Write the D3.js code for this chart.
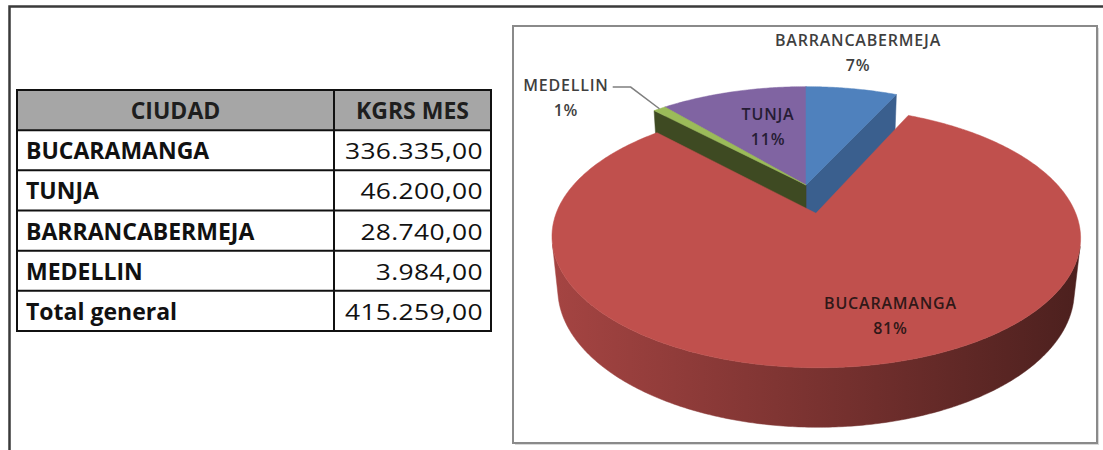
<!DOCTYPE html>
<html>
<head>
<meta charset="utf-8">
<script src="https://cdn.jsdelivr.net/npm/d3@7"></script>
<style>
  body { margin: 0; background: #fff; }
  svg { display: block; font-family: 'Open Sans', sans-serif; }
</style>
</head>
<body>
<div id="viz"></div>
<script>
const width = 1103;
const height = 450;

// Data (table order)
const cities = ['BUCARAMANGA', 'TUNJA', 'BARRANCABERMEJA', 'MEDELLIN'];
const kgrsMes = [336335, 46200, 28740, 3984];
const headers = ['CIUDAD', 'KGRS MES'];
const totalLabel = 'Total general';

// Slice styles (same order as cities)
const topColors = ['#c0504d', '#8064a2', '#4f81bd', '#9bbb59'];
const sideColors = ['#7d2f2d', '#5a4573', '#3a5f8e', '#3e4a22'];
const explode = [0.237, 0, 0, 0];

const svg = d3.select('#viz')
  .append('svg')
    .attr('width', width)
    .attr('height', height);

// Page frame (top + left rule)
svg.append('path')
  .attr('d', 'M9.5,450 V6.5 H1103')
  .attr('fill', 'none')
  .attr('stroke', '#3a3a3a')
  .attr('stroke-width', 2.5);

// ---------------- Table ----------------
const numFormat = d3.formatLocale({decimal: ',', thousands: '.', grouping: [3], currency: ['', '']}).format(',.2f');
const rows = cities.map((c, i) => ({name: c, value: kgrsMes[i]}));
rows.push({name: totalLabel, value: d3.sum(kgrsMes)});

const colX = [17, 334, 491];
const rowY = d3.scaleBand()
  .domain(d3.range(rows.length + 1))
  .range([90, 331]);

const table = svg.append('g').attr('class', 'table');

table.append('rect')
  .attr('x', colX[0]).attr('y', rowY(0))
  .attr('width', colX[2] - colX[0]).attr('height', rowY.bandwidth())
  .attr('fill', '#a6a6a6');

table.selectAll('text.head')
  .data(headers)
  .join('text')
    .attr('class', 'head')
    .attr('x', (d, i) => (colX[i] + colX[i + 1]) / 2)
    .attr('y', rowY(0) + 29)
    .attr('text-anchor', 'middle')
    .attr('font-size', 23)
    .attr('font-weight', 700)
    .attr('fill', '#1e1e1e')
    .text(d => d);

const bodyRows = table.selectAll('g.row')
  .data(rows)
  .join('g')
    .attr('class', 'row')
    .attr('transform', (d, i) => `translate(0, ${rowY(i + 1)})`);

bodyRows.append('text')
  .attr('x', colX[0] + 9)
  .attr('y', 29)
  .attr('font-size', 23)
  .attr('font-weight', 700)
  .attr('fill', '#111')
  .text(d => d.name);

// numbers: slightly widened glyphs, right aligned
bodyRows.append('text')
  .attr('transform', `translate(${colX[2] - 8}, 29) scale(1.2, 1)`)
  .attr('text-anchor', 'end')
  .attr('font-size', 22)
  .attr('letter-spacing', 0.3)
  .attr('fill', '#111')
  .text(d => numFormat(d.value));

// grid lines
table.selectAll('line.h')
  .data(d3.range(rows.length + 2))
  .join('line')
    .attr('x1', colX[0]).attr('x2', colX[2])
    .attr('y1', i => i <= rows.length ? rowY(i) : rowY.range()[1])
    .attr('y2', i => i <= rows.length ? rowY(i) : rowY.range()[1])
    .attr('stroke', '#111').attr('stroke-width', 2);
table.selectAll('line.v')
  .data(colX)
  .join('line')
    .attr('x1', d => d).attr('x2', d => d)
    .attr('y1', rowY.range()[0] - 1).attr('y2', rowY.range()[1] + 1)
    .attr('stroke', '#111').attr('stroke-width', 2);

// ---------------- Chart box ----------------
svg.append('rect')
  .attr('x', 515).attr('y', 28)
  .attr('width', 584).attr('height', 417)
  .attr('fill', '#d9d9d9');
svg.append('rect')
  .attr('x', 513).attr('y', 26)
  .attr('width', 584).attr('height', 417)
  .attr('fill', '#fff')
  .attr('stroke', '#8a8a8a')
  .attr('stroke-width', 2);

// ---------------- 3D pie ----------------
const cam = {cx: 806, cy: 185, k: 249, tilt: 27.7 * Math.PI / 180, dist: 5.0};
const depth = 0.235;
const cosT = Math.cos(cam.tilt), sinT = Math.sin(cam.tilt);
const camPos = [0, cam.dist * sinT, cam.dist * cosT];

const project = (X, Y, Z) => {
  const up = Y * cosT - Z * sinT;
  const d = cam.dist - Y * sinT - Z * cosT;
  const f = cam.dist / d;
  return [cam.cx + cam.k * X * f, cam.cy - cam.k * up * f];
};
const world = (a, r, off) => [off[0] + r * Math.sin(a), off[1] - r * Math.cos(a)];
const facing = (P, n) => (camPos[0] - P[0]) * n[0] + (camPos[1] - P[1]) * n[1] + (camPos[2] - P[2]) * n[2];

const pieData = cities.map((c, i) => ({name: c, value: kgrsMes[i], idx: i}));
const arcs = d3.pie()
  .value(d => d.value)
  .sort((a, b) => d3.ascending(a.name, b.name))(pieData);

const total = d3.sum(kgrsMes);
const pct = d3.format('.0%');
const line = d3.line();

arcs.forEach(a => {
  const mid = (a.startAngle + a.endAngle) / 2;
  const e = explode[a.data.idx];
  a.off = [e * Math.sin(mid), -e * Math.cos(mid)];
  a.mid = mid;
});

const sides = [];
const tops = [];
arcs.forEach(a => {
  const i = a.data.idx;
  const n = Math.max(2, Math.ceil((a.endAngle - a.startAngle) / 0.01));
  const angles = d3.range(n + 1).map(j => a.startAngle + (a.endAngle - a.startAngle) * j / n);

  // top face
  const c = a.off;
  const topPts = [project(c[0], 0, c[1])].concat(angles.map(t => {
    const w = world(t, 1, c);
    return project(w[0], 0, w[1]);
  }));
  tops.push({pts: topPts, fill: topColors[i], z: -(c[1]), idx: i});

  // outer wall: only the front-facing part
  const vis = angles.filter(t => {
    const w = world(t, 1, c);
    return facing([w[0], 0, w[1]], [Math.sin(t), 0, -Math.cos(t)]) > 0;
  });
  if (vis.length > 1) {
    const upper = vis.map(t => { const w = world(t, 1, c); return project(w[0], 0, w[1]); });
    const lower = vis.slice().reverse().map(t => { const w = world(t, 1, c); return project(w[0], -depth, w[1]); });
    sides.push({pts: upper.concat(lower), fill: 'url(#wall' + i + ')', z: 2, idx: i});
  }

  // radial cut faces
  [[a.startAngle, -1], [a.endAngle, 1]].forEach(([t, s]) => {
    const nrm = [s * Math.cos(t), 0, s * Math.sin(t)];
    const w = world(t, 0.5, c);
    if (facing([w[0], -depth / 2, w[1]], nrm) > 0) {
      const r = world(t, 1, c);
      sides.push({
        pts: [project(c[0], 0, c[1]), project(r[0], 0, r[1]), project(r[0], -depth, r[1]), project(c[0], -depth, c[1])],
        fill: sideColors[i], z: w[1], idx: i
      });
    }
  });
});

// gradients for walls
const defs = svg.append('defs');
arcs.forEach(a => {
  const i = a.data.idx;
  const g = defs.append('linearGradient')
    .attr('id', 'wall' + i)
    .attr('gradientUnits', 'userSpaceOnUse')
    .attr('x1', cam.cx - cam.k * 1.0).attr('x2', cam.cx + cam.k * 1.1)
    .attr('y1', 0).attr('y2', 0);
  const base = d3.color(topColors[i]);
  g.append('stop').attr('offset', 0).attr('stop-color', base.darker(0.45));
  g.append('stop').attr('offset', 0.5).attr('stop-color', base.darker(1.3));
  g.append('stop').attr('offset', 1).attr('stop-color', base.darker(2.6));
});

const pieG = svg.append('g').attr('class', 'pie');
sides.sort((p, q) => p.z - q.z);
pieG.selectAll('path.side')
  .data(sides)
  .join('path')
    .attr('class', 'side')
    .attr('d', d => line(d.pts) + 'Z')
    .attr('fill', d => d.fill)
    .attr('stroke', d => d.fill)
    .attr('stroke-width', 0.5);

tops.sort((p, q) => p.z - q.z);
pieG.selectAll('path.top')
  .data(tops)
  .join('path')
    .attr('class', 'top')
    .attr('d', d => line(d.pts) + 'Z')
    .attr('fill', d => d.fill)
    .attr('stroke', d => d.fill)
    .attr('stroke-width', 0.5);

// ---------------- Labels ----------------
// radius on the top face and a small nudge (px) for each label, in cities order
const labelRadius = [0.6, 0.55, 1.3, 1.35];
const labelNudge = [[45, 19], [5, -3], [-5, -12], [-50, 12]];
const labelColor = ['#301818', '#261c34', '#3f3f3f', '#3f3f3f'];

const labels = pieG.append('g').attr('class', 'labels');
arcs.forEach(a => {
  const i = a.data.idx;
  const w = world(a.mid, labelRadius[i], a.off);
  const p = project(w[0], 0, w[1]);
  const x = p[0] + labelNudge[i][0];
  const y = p[1] + labelNudge[i][1];
  const t = labels.append('text')
    .attr('text-anchor', 'middle')
    .attr('font-size', 16)
    .attr('font-weight', 600)
    .attr('letter-spacing', 0.8)
    .attr('fill', labelColor[i]);
  t.append('tspan').attr('x', x).attr('y', y - 7).text(a.data.name);
  t.append('tspan').attr('x', x).attr('y', y + 18).text(pct(a.data.value / total));

  if (labelRadius[i] > 1.32) {
    // leader line from label to rim
    const bb = t.node().getBBox();
    const r = world(a.mid, 1.0, a.off);
    const rp = project(r[0], 0, r[1]);
    const sx = bb.x + bb.width + 4;
    const sy = y - 11;
    labels.append('path')
      .attr('d', line([[sx, sy], [sx + 18, sy], rp]))
      .attr('fill', 'none')
      .attr('stroke', '#7f7f7f')
      .attr('stroke-width', 1.5);
  }
});
</script>
</body>
</html>
